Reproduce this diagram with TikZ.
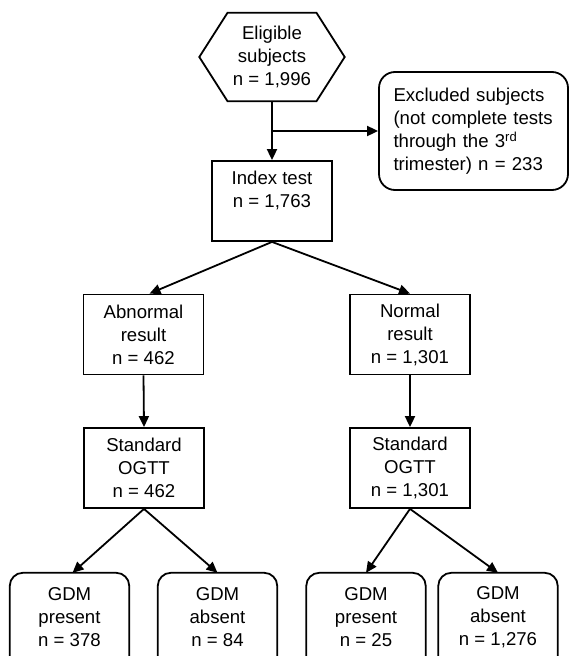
\documentclass[tikz,border=0pt]{standalone}
\usepackage{fontspec}
\setmainfont{Liberation Sans}
\usetikzlibrary{arrows.meta}
\tikzset{
	% node looks
	txt/.style={font=\fontsize{18.6}{23}\selectfont, align=center, inner sep=0pt},
	box/.style={txt, draw, line width=1.8pt, minimum width=120pt, minimum height=80pt},
	roundbox/.style={txt, minimum width=119pt, minimum height=88pt},
	frame/.style={line width=1.8pt, rounded corners=13pt},
	% connectors
	arr/.style={line width=1.8pt, -{Triangle[length=11pt,width=10pt]}}
}
\begin{document}
\begin{tikzpicture}[x=1pt, y=-1pt]
		\useasboundingbox (0,0) rectangle (570,656);
		\node [txt, minimum width=145pt, minimum height=88pt] (elig) at (272,57) {Eligible\\subjects\\n = 1,996};
		\draw [line width=1.8pt] ([xshift=-44.5pt]elig.north) -- ([xshift=44.5pt]elig.north) -- (elig.east) -- ([xshift=44.5pt]elig.south) -- ([xshift=-44.5pt]elig.south) -- (elig.west) -- cycle;
		\node [txt, draw, line width=1.8pt, rounded corners=16pt, minimum width=189pt, minimum height=118pt, text width=160pt, align=left] (excl) at (473.5,131) {Excluded subjects\\(not complete tests\\through the 3\textsuperscript{rd}\\trimester) n = 233};
		\node [box] (index) at (272,201) {Index test\\n = 1,763\\ \mbox{}};
		\node [box] (abn) at (143.5,334.5) {Abnormal\\result\\n = 462};
		\node [box] (norm) at (410,334.5) {Normal\\result\\n = 1,301};
		\node [box] (ogttA) at (144,468) {Standard\\OGTT\\n = 462};
		\node [box] (ogttB) at (410,468) {Standard\\OGTT\\n = 1,301};
		\node [roundbox] (gdmA) at (69.5,617) {GDM\\present\\n = 378};
		\node [roundbox] (gdmB) at (217.5,617) {GDM\\absent\\n = 84};
		\node [roundbox] (gdmC) at (366,617) {GDM\\present\\n = 25};
		\node [roundbox] (gdmD) at (498,617) {GDM\\absent\\n = 1,276};
		\foreach \g in {gdmA,gdmB,gdmC,gdmD}
			\draw [frame] (\g.north west) rectangle ([yshift=-14pt]\g.south east);
		\coordinate (split) at (elig.south |- excl.west);
		\draw [arr] (elig.south) -- (index.north);
		\draw [arr] (split) -- (excl.west);
		\draw [arr] (index.south) -- ([xshift=6pt]abn.north);
		\draw [arr] (index.south) -- (norm.north);
		\draw [arr] (abn.south) -- (ogttA.north);
		\draw [arr] (norm.south) -- (ogttB.north);
		\draw [arr] (ogttA.south) -- ([xshift=3pt]gdmA.north);
		\draw [arr] (ogttA.south) -- (gdmB.north);
		\draw [arr] (ogttB.south) -- (gdmC.north);
		\draw [arr] (ogttB.south) -- (gdmD.north);
	\end{tikzpicture}
\end{document}
